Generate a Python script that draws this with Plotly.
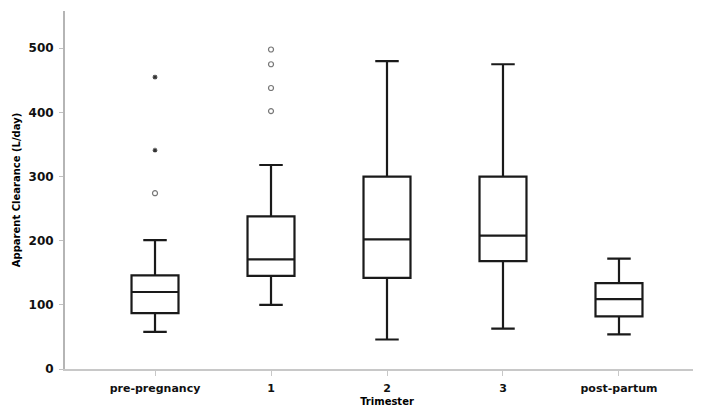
import plotly.graph_objects as go

categories = ["pre-pregnancy", "1", "2", "3", "post-partum"]
lower_whisker = [58, 100, 46, 63, 54]
q1 = [87, 145, 142, 168, 82]
median = [120, 171, 202, 208, 109]
q3 = [146, 238, 300, 300, 134]
upper_whisker = [201, 318, 480, 475, 172]

# outliers (circles) and extreme values (asterisks)
outlier_cats = ["pre-pregnancy", "1", "1", "1", "1"]
outlier_vals = [274, 402, 438, 475, 498]
extreme_cats = ["pre-pregnancy", "pre-pregnancy"]
extreme_vals = [341, 455]

y_ticks = [0, 100, 200, 300, 400, 500]

fig = go.Figure()
fig.add_trace(go.Box(
    x=categories, q1=q1, median=median, q3=q3,
    lowerfence=lower_whisker, upperfence=upper_whisker,
    boxpoints=False, fillcolor="white",
    line=dict(color="#1a1a1a", width=2.2),
    whiskerwidth=0.5, width=0.405, showlegend=False, hoverinfo="skip",
))
fig.add_trace(go.Scatter(
    x=outlier_cats, y=outlier_vals, mode="markers",
    marker=dict(symbol="circle-open", size=5, color="#777777", line=dict(width=1.2)),
    showlegend=False, hoverinfo="skip",
))
fig.add_trace(go.Scatter(
    x=extreme_cats, y=extreme_vals, mode="markers",
    marker=dict(symbol="asterisk-open", size=4, color="#333333", line=dict(width=1.1, color="#333333")),
    showlegend=False, hoverinfo="skip",
))

font_family = "DejaVu Sans"
fig.update_layout(
    width=701, height=411,
    margin=dict(l=57, r=0, t=3, b=50),
    paper_bgcolor="white", plot_bgcolor="white",
    font=dict(family=font_family, color="black"),
    xaxis=dict(
        type="category", categoryorder="array", categoryarray=categories,
        range=[-0.776, 4.776], automargin=False,
        tickvals=categories, ticktext=[f"<b>{c}</b>" for c in categories],
        showline=True, linecolor="#c8c8c8", linewidth=1.5,
        ticks="outside", ticklen=5, tickcolor="#c8c8c8", tickwidth=1,
        ticklabelstandoff=3,
        tickfont=dict(size=11, family=font_family, color="#111111"),
        showgrid=False, zeroline=False,
        title=dict(text="<b>Trimester</b>", font=dict(size=10), standoff=4),
    ),
    yaxis=dict(
        range=[0, 558], automargin=False,
        tickvals=y_ticks, ticktext=[f"<b>{v}</b>" for v in y_ticks],
        showline=True, linecolor="#b5b5b5", linewidth=2,
        ticks="outside", ticklen=4, tickcolor="#c0c0c0", tickwidth=1,
        ticklabelstandoff=3,
        tickfont=dict(size=12, family=font_family, color="#111111"),
        showgrid=False, zeroline=False,
        title=dict(text="<b>Apparent Clearance (L/day)</b>", font=dict(size=10), standoff=6),
    ),
)

fig.write_html("out.html")
